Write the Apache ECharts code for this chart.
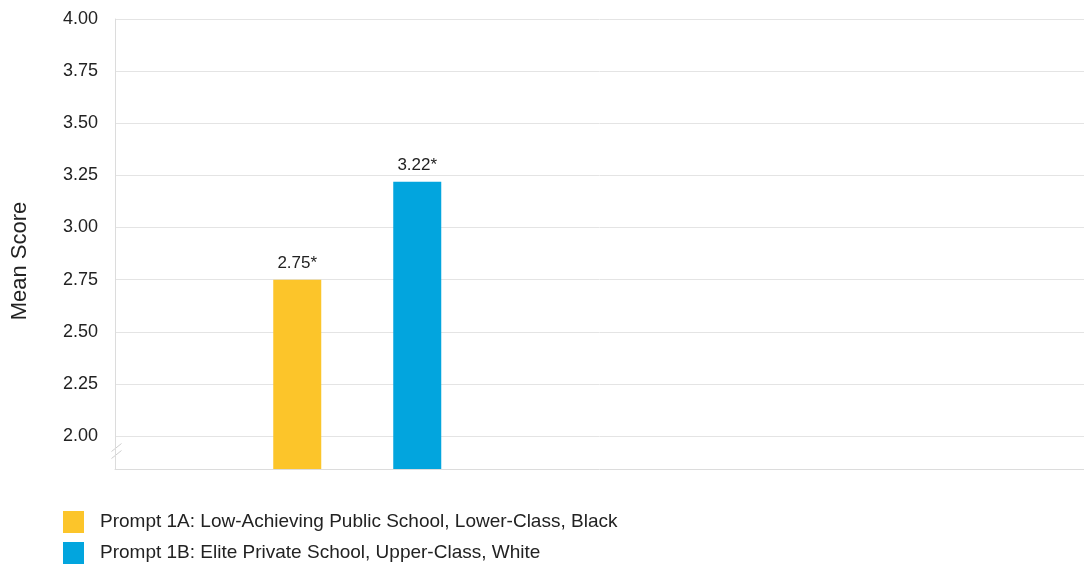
<!DOCTYPE html>
<html>
<head>
<meta charset="utf-8">
<style>
  html, body { margin: 0; padding: 0; background: #fff; }
  #chart { width: 1084px; height: 565px; }
</style>
<script src="https://cdn.jsdelivr.net/npm/echarts@6/dist/echarts.min.js"></script>
</head>
<body>
<div id="chart"></div>
<script>
// data
const categories = ["Prompt 1", ""];
const seriesNames = [
  "Prompt 1A: Low-Achieving Public School, Lower-Class, Black",
  "Prompt 1B: Elite Private School, Upper-Class, White",
];
const promptA = [2.75, null];
const promptB = [3.22, null];
const barLabels = ["2.75*", "3.22*"];
const yTicks = [2.0, 2.25, 2.5, 2.75, 3.0, 3.25, 3.5, 3.75, 4.0];

const colors = ["#fcc52a", "#02a5de"];
const font = "Liberation Sans, Arial, sans-serif";

const chart = echarts.init(document.getElementById("chart"));

function barSeries(name, data, label, color) {
  return {
    name: name,
    type: "bar",
    data: data,
    barWidth: 48,
    barGap: "150%",
    itemStyle: { color: color },
    label: {
      show: true,
      position: "top",
      distance: 8,
      formatter: () => label,
      color: "#222",
      fontSize: 17,
      fontFamily: font,
    },
  };
}

chart.setOption({
  animation: false,
  textStyle: { fontFamily: font },
  grid: {
    left: 115, top: 19, right: 0, bottom: 96,
    containLabel: false,
    outerBoundsMode: "none",
  },
  legend: {
    orient: "vertical",
    left: 63,
    top: 511,
    padding: 0,
    itemWidth: 21,
    itemHeight: 22,
    itemGap: 9,
    icon: "rect",
    textStyle: { color: "#222", fontSize: 19, fontFamily: font, padding: [0, 0, 0, 11] },
    data: seriesNames,
  },
  xAxis: {
    type: "category",
    data: categories,
    axisLine: { lineStyle: { color: "#dcdcdc", width: 1 } },
    axisTick: { show: false },
    axisLabel: { show: false },
    splitLine: { show: false },
  },
  yAxis: {
    type: "value",
    min: 1.842,
    max: 4,
    name: "Mean Score",
    nameLocation: "middle",
    nameRotate: 90,
    nameGap: 84,
    nameTextStyle: { color: "#222", fontSize: 22, fontFamily: font, padding: [0, 34, 0, 0] },
    axisLine: { show: true, lineStyle: { color: "#dcdcdc", width: 1 } },
    axisTick: { show: false, customValues: yTicks },
    axisLabel: {
      customValues: yTicks,
      formatter: (v) => v.toFixed(2),
      color: "#222",
      fontSize: 18,
      fontFamily: font,
      margin: 17,
    },
    splitLine: { show: true, lineStyle: { color: "#e4e4e4", width: 1 } },
  },
  graphic: [
    {
      type: "group",
      left: 109,
      top: 441,
      children: [
        { type: "rect", shape: { x: 4, y: 2, width: 4, height: 11 }, style: { fill: "#fff" } },
        { type: "line", shape: { x1: 0, y1: 8, x2: 10, y2: 0 }, style: { stroke: "#cfcfcf", lineWidth: 1 } },
        { type: "line", shape: { x1: 0, y1: 15, x2: 10, y2: 7 }, style: { stroke: "#cfcfcf", lineWidth: 1 } },
      ],
    },
  ],
  series: [
    barSeries(seriesNames[0], promptA, barLabels[0], colors[0]),
    barSeries(seriesNames[1], promptB, barLabels[1], colors[1]),
  ],
});
</script>
</body>
</html>
